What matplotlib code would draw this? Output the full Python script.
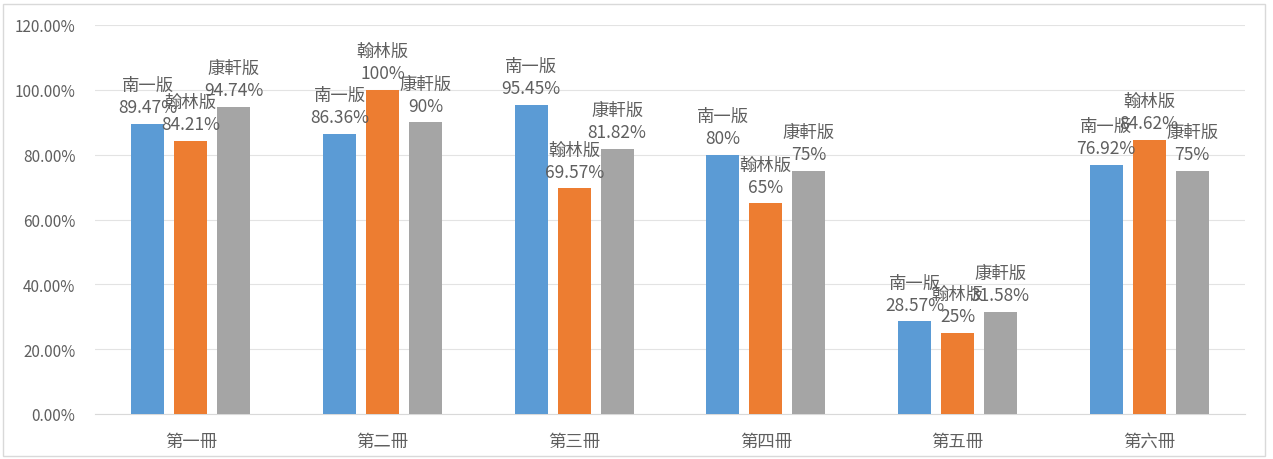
import matplotlib
matplotlib.use("Agg")
import matplotlib.pyplot as plt
import numpy as np

plt.rcParams['font.family'] = ['Noto Sans CJK TC', 'DejaVu Sans']

categories = ['第一冊', '第二冊', '第三冊', '第四冊', '第五冊', '第六冊']
series_names = ['南一版', '翰林版', '康軒版']
nanyi = [89.47, 86.36, 95.45, 80, 28.57, 76.92]
hanlin = [84.21, 100, 69.57, 65, 25, 84.62]
kangxuan = [94.74, 90, 81.82, 75, 31.58, 75]
colours = ['#5b9bd5', '#ed7d31', '#a5a5a5']


def fmt(v):
    if float(v).is_integer():
        return f"{int(v)}%"
    return f"{v:.2f}%"


fig = plt.figure(figsize=(12.73, 4.6), dpi=100)
ax = fig.add_axes([95 / 1273, 45 / 460, 1150 / 1273, 389 / 460])

x = np.arange(len(categories))
width = 0.172
step = 0.224
text_col = '#5f5f5f'

for i, (name, vals) in enumerate(zip(series_names, [nanyi, hanlin, kangxuan])):
    pos = x + (i - 1) * step
    ax.bar(pos, vals, width, color=colours[i], zorder=3)
    for p, v in zip(pos, vals):
        ax.annotate(f"{name}\n{fmt(v)}", (p, v), xytext=(0, 5.5), textcoords='offset points',
                    ha='center', va='bottom', fontsize=12.5, color=text_col,
                    linespacing=1.3, zorder=5)

ax.set_xlim(-0.5, len(categories) - 0.5)
ax.set_ylim(0, 120)
ax.set_yticks(np.arange(0, 121, 20))
ax.set_yticklabels([f"{t:.2f}%" for t in np.arange(0, 121, 20)], fontsize=11, color=text_col)
ax.set_xticks(x)
ax.set_xticklabels(categories, fontsize=12.5, color=text_col)
ax.tick_params(axis='both', length=0)
ax.tick_params(axis='x', pad=13)
ax.tick_params(axis='y', pad=14)
ax.grid(axis='y', color='#e3e3e3', linewidth=0.8, zorder=0)
for s in ['top', 'right', 'left']:
    ax.spines[s].set_visible(False)
ax.spines['bottom'].set_color('#d9d9d9')

fig.patches.append(plt.Rectangle((3 / 1273, 3 / 460), 1262 / 1273, 452 / 460,
                                 transform=fig.transFigure, fill=False,
                                 edgecolor='#d9d9d9', linewidth=1))

fig.savefig('out.png', dpi=100)
